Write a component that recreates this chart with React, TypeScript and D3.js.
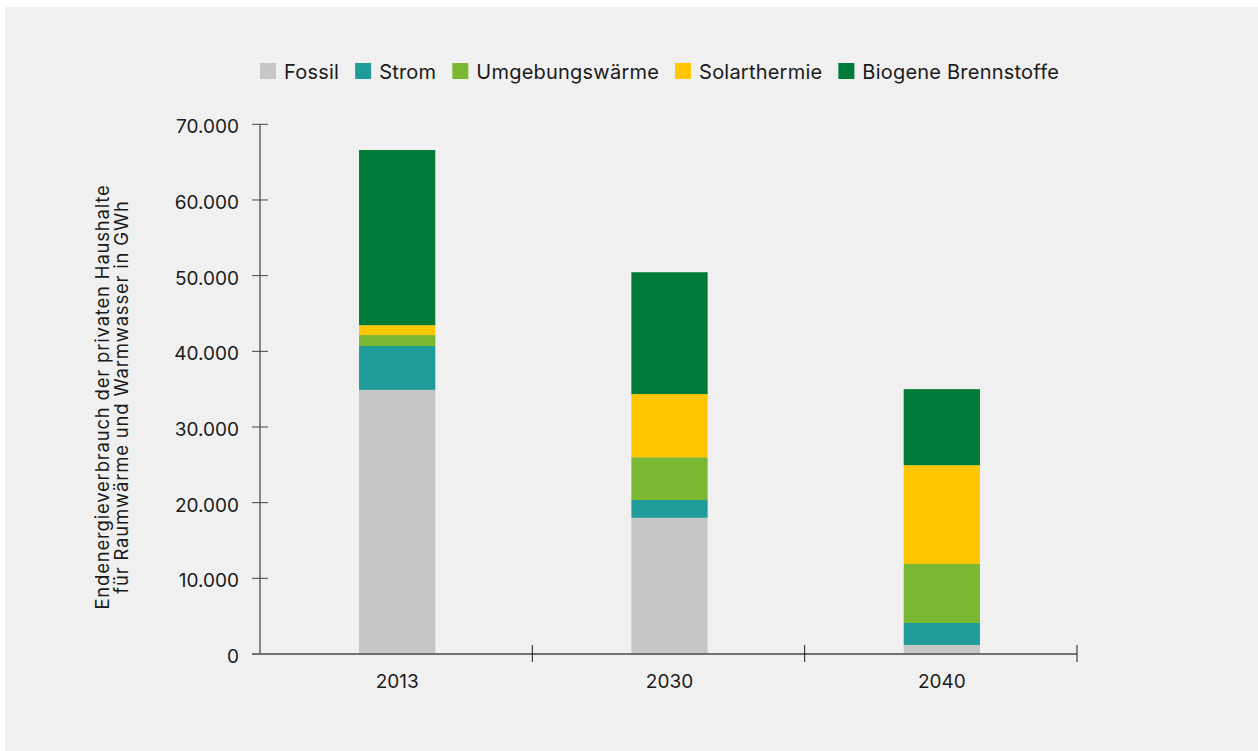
import { useEffect, useRef } from "react"
import * as d3 from "d3"

const years = ["2013", "2030", "2040"]
const seriesNames = ["Fossil", "Strom", "Umgebungswärme", "Solarthermie", "Biogene Brennstoffe"]
const fossil = [34900, 18000, 1200]
const strom = [5800, 2350, 2900]
const umgebung = [1450, 5650, 7800]
const solar = [1300, 8350, 13050]
const biogen = [23150, 16100, 10050]
const colors = ["#c6c7c5", "#1f9c99", "#7ab834", "#fec600", "#007a37"]
const yTicks = [0, 10000, 20000, 30000, 40000, 50000, 60000, 70000]
const yTitle = ["Endenergieverbrauch der privaten Haushalte", "für Raumwärme und Warmwasser in GWh"]

const width = 1258
const height = 751
const font = "Inter, 'Noto Sans', sans-serif"

export default function App() {
    const svgRef = useRef<SVGSVGElement>(null)

    useEffect(() => {
        document.body.style.margin = "0"
        const svg = d3.select(svgRef.current)
        svg.selectAll("*").remove()

        const margin = { top: 124.3, right: 181, bottom: 97, left: 260 }

        const rows = years.map((year, i) => ({
            year,
            Fossil: fossil[i],
            Strom: strom[i],
            "Umgebungswärme": umgebung[i],
            Solarthermie: solar[i],
            "Biogene Brennstoffe": biogen[i],
        }))

        const xScale = d3.scaleBand()
            .domain(years)
            .range([margin.left, width - margin.right])

        const yScale = d3.scaleLinear()
            .domain([0, 70000])
            .range([height - margin.bottom, margin.top])

        const color = d3.scaleOrdinal<string>().domain(seriesNames).range(colors)
        const stacked = d3.stack<any>().keys(seriesNames)(rows)
        const fmt = d3.formatLocale({ decimal: ",", thousands: ".", grouping: [3], currency: ["", "€"] }).format(",")

        // panel
        svg.append("rect")
            .attr("x", 5).attr("y", 7)
            .attr("width", width - 5).attr("height", height - 7)
            .attr("fill", "#f0f0f0")

        const barW = xScale.bandwidth() * 0.28

        svg.append("g")
            .selectAll("g")
            .data(stacked)
            .join("g")
            .attr("fill", d => color(d.key))
            .selectAll("rect")
            .data(d => d)
            .join("rect")
            .attr("x", d => xScale(d.data.year)! + xScale.bandwidth() / 2 - barW / 2 + 1)
            .attr("y", d => yScale(d[1]))
            .attr("width", barW)
            .attr("height", d => yScale(d[0]) - yScale(d[1]))

        // y axis
        const yAxis = svg.append("g")
        yAxis.append("line")
            .attr("x1", margin.left).attr("x2", margin.left)
            .attr("y1", yScale(70000)).attr("y2", yScale(0))
            .attr("stroke", "#1a1a1a").attr("stroke-width", 1)
        yAxis.selectAll("line.tick")
            .data(yTicks)
            .join("line")
            .attr("class", "tick")
            .attr("x1", margin.left - 8).attr("x2", margin.left + 8)
            .attr("y1", d => yScale(d)).attr("y2", d => yScale(d))
            .attr("stroke", "#444").attr("stroke-width", 1)
        yAxis.selectAll("text")
            .data(yTicks)
            .join("text")
            .attr("x", margin.left - 21)
            .attr("y", d => yScale(d) + 9)
            .attr("text-anchor", "end")
            .attr("font-family", font)
            .attr("font-size", 19)
            .attr("fill", "#1a1a1a")
            .text(d => fmt(d))

        // x axis
        const xAxis = svg.append("g")
        xAxis.append("line")
            .attr("x1", margin.left - 8).attr("x2", width - margin.right)
            .attr("y1", yScale(0)).attr("y2", yScale(0))
            .attr("stroke", "#707070").attr("stroke-width", 2)
        xAxis.selectAll("line.tick")
            .data(years)
            .join("line")
            .attr("class", "tick")
            .attr("x1", d => xScale(d)! + xScale.bandwidth())
            .attr("x2", d => xScale(d)! + xScale.bandwidth())
            .attr("y1", yScale(0) - 9).attr("y2", yScale(0) + 8)
            .attr("stroke", "#1a1a1a").attr("stroke-width", 1)
        xAxis.selectAll("text")
            .data(years)
            .join("text")
            .attr("x", d => xScale(d)! + xScale.bandwidth() / 2 + 1)
            .attr("y", yScale(0) + 34)
            .attr("text-anchor", "middle")
            .attr("font-family", font)
            .attr("font-size", 19)
            .attr("fill", "#1a1a1a")
            .text(d => d)

        // y title
        svg.append("text")
            .attr("transform", `translate(108.5,397) rotate(-90)`)
            .attr("text-anchor", "middle")
            .attr("font-family", font)
            .attr("font-size", 18.5)
            .attr("letter-spacing", 0.8)
            .attr("fill", "#1a1a1a")
            .selectAll("tspan")
            .data(yTitle)
            .join("tspan")
            .attr("x", 0)
            .attr("dy", (_, i) => (i === 0 ? 0 : 19.5))
            .text(d => d)

        // legend
        const legend = svg.append("g").attr("transform", "translate(0,71)")
        const items = legend.selectAll("g")
            .data(seriesNames)
            .join("g")
        items.append("rect")
            .attr("width", 16).attr("height", 16)
            .attr("y", -8)
            .attr("fill", d => color(d))
        items.append("text")
            .attr("x", 24)
            .attr("y", 8)
            .attr("font-family", font)
            .attr("font-size", 20)
            .attr("letter-spacing", 0.22)
            .attr("fill", "#1a1a1a")
            .text(d => d)
        let offset = 0
        const widths: number[] = []
        items.each(function () {
            const t = d3.select(this).select("text").node() as SVGTextElement
            widths.push(24 + t.getComputedTextLength())
        })
        const gap = 16
        items.attr("transform", (_, i) => {
            const x = 260 + offset
            offset += widths[i] + gap
            return `translate(${x},0)`
        })
    }, [])

    return <svg ref={svgRef} width={width} height={height} viewBox={`0 0 ${width} ${height}`} style={{ display: "block" }}></svg>
}
